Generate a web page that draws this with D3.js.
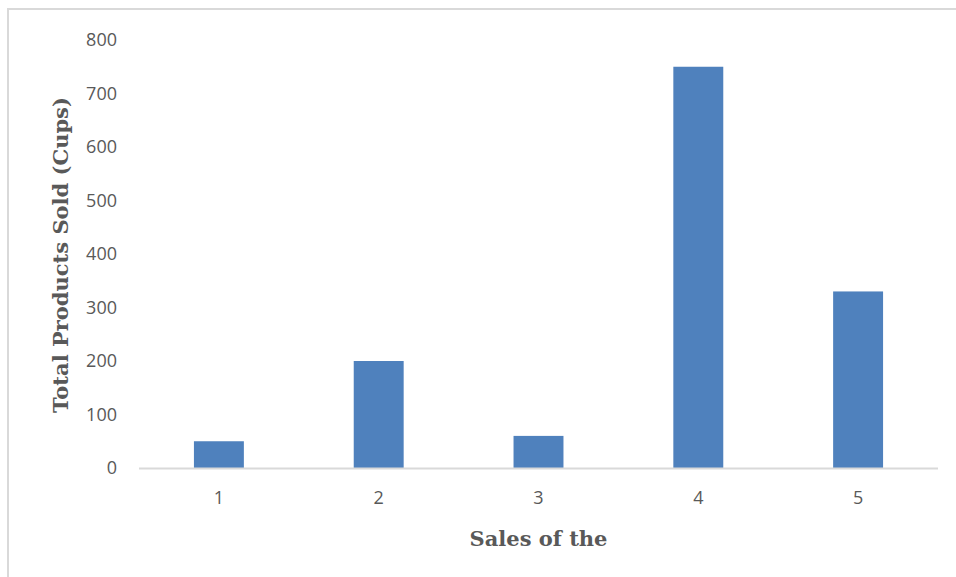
<!DOCTYPE html>
<html>
<head>
<meta charset="utf-8">
<script src="https://cdn.jsdelivr.net/npm/d3@7"></script>
<style>
  body { margin: 0; background: #fff; }
</style>
</head>
<body>
<svg id="svg"></svg>
<script>
var categories = ["1", "2", "3", "4", "5"];
var sales = [50, 200, 60, 750, 330];
var yTicks = [0, 100, 200, 300, 400, 500, 600, 700, 800];

var larghezza = 956;
var altezza = 577;
var plotLeft = 139, plotRight = 938, plotTop = 40, plotBottom = 468;

var svg = d3.select("#svg").attr("width", larghezza).attr("height", altezza);

// chart border (runs off the right and bottom edge)
svg.append("rect")
    .attr("x", 8).attr("y", 9)
    .attr("width", 1000).attr("height", 700)
    .style("fill", "none")
    .style("stroke", "#d9d9d9")
    .style("stroke-width", "2px");

var x = d3.scaleBand().domain(categories).range([plotLeft, plotRight]).paddingInner(0.6875).paddingOuter(0.34375);
var y = d3.scaleLinear().domain([0, 800]).range([plotBottom, plotTop]);

// bars
svg.selectAll(".bar").data(sales).enter().append("rect")
    .attr("class", "bar")
    .attr("x", function (d, i) { return x(categories[i]); })
    .attr("y", function (d) { return y(d); })
    .attr("width", x.bandwidth())
    .attr("height", function (d) { return y(0) - y(d); })
    .style("fill", "#4f81bd");

// x axis line + labels
var xAxis = svg.append("g").attr("transform", "translate(0," + plotBottom + ")")
    .call(d3.axisBottom(x).tickSize(0).tickPadding(23));
xAxis.select(".domain").attr("d", "M" + plotLeft + ",0.5H" + plotRight).style("stroke", "#d9d9d9").style("stroke-width", "2px");
xAxis.selectAll("text").style("font-family", "'Open Sans', sans-serif").style("font-size", "18px").style("fill", "#595959");

// y axis labels
var yAxis = svg.append("g").attr("transform", "translate(" + (plotLeft - 22) + ",0)")
    .call(d3.axisLeft(y).tickValues(yTicks).tickSize(0).tickPadding(0));
yAxis.select(".domain").remove();
yAxis.selectAll("text").style("font-family", "'Open Sans', sans-serif").style("font-size", "18px").style("fill", "#595959");

// titles
svg.append("text")
    .attr("x", (plotLeft + plotRight) / 2)
    .attr("y", 546)
    .attr("text-anchor", "middle")
    .style("font-family", "'DejaVu Serif', serif")
    .style("font-weight", "bold")
    .style("font-size", "21px")
    .style("fill", "#595959")
    .text("Sales of the");

svg.append("text")
    .attr("transform", "translate(68,255) rotate(-90)")
    .attr("text-anchor", "middle")
    .style("font-family", "'DejaVu Serif', serif")
    .style("font-weight", "bold")
    .style("font-size", "21px")
    .style("fill", "#595959")
    .text("Total Products Sold (Cups)");
</script>
</body>
</html>
